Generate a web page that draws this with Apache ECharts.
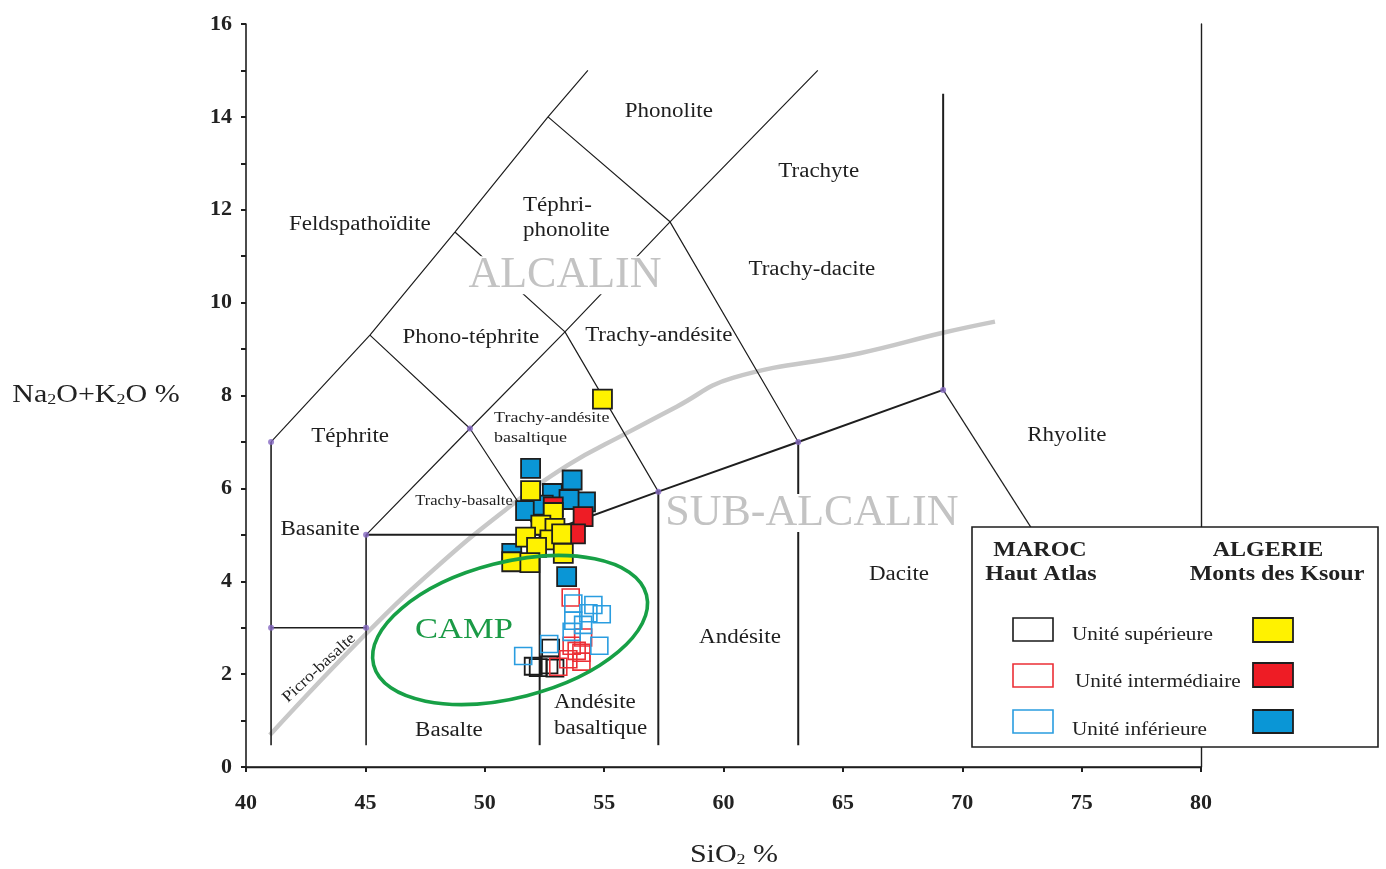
<!DOCTYPE html>
<html>
<head>
<meta charset="utf-8">
<script src="https://cdn.jsdelivr.net/npm/echarts@6/dist/echarts.min.js"></script>
<style>
  html, body { margin: 0; padding: 0; background: #ffffff; }
  #chart { width: 1386px; height: 869px; }
</style>
</head>
<body>
<div id="chart"></div>
<script>
// ---- Axis ticks (SiO2 wt%, Na2O+K2O wt%) ----
const siO2Ticks = [40, 45, 50, 55, 60, 65, 70, 75, 80];
const alkaliTicks = [0, 2, 4, 6, 8, 10, 12, 14, 16];

// ---- Maroc, Haut Atlas (open squares) ----
const marocSuperieure = [[52.76, 2.56], [52.03, 2.17], [52.24, 2.14], [52.69, 2.20], [52.94, 2.13]];
const marocIntermediaire = [[53.60, 3.65], [54.12, 2.79], [53.64, 2.61], [54.05, 2.46], [53.50, 2.32],
                            [54.05, 2.27], [53.08, 2.16], [53.85, 2.50]];
const marocInferieure = [[53.71, 3.52], [54.55, 3.49], [54.90, 3.29], [54.34, 3.31], [53.71, 3.15],
                         [54.12, 3.06], [53.64, 2.91], [54.80, 2.61], [51.61, 2.39], [52.70, 2.65]];

// ---- Algérie, Monts des Ksour (filled squares) ----
const algerieInferieure = [[51.92, 6.43], [53.66, 6.18], [52.83, 5.89], [54.22, 5.71], [53.53, 5.76],
                           [51.71, 5.52], [53.43, 4.10], [51.13, 4.60], [52.45, 5.64]];
const algerieIntermediaire = [[52.87, 5.60], [54.12, 5.39], [53.80, 5.02]];
const algerieSuperieure = [[54.93, 7.92], [51.92, 5.95], [52.87, 5.48], [52.35, 5.21], [52.94, 5.14],
                           [51.71, 4.95], [52.73, 4.89], [53.22, 5.02], [53.29, 4.60], [52.17, 4.73],
                           [51.13, 4.42], [51.89, 4.40]];

// ---- TAS field boundaries ----
const fieldBoundaries = [
  [[41.05, 7.00], [45.19, 9.30], [48.75, 11.52], [52.65, 14.00], [54.32, 15.00]],
  [[45.03, 5.00], [49.38, 7.29], [53.36, 9.37], [57.76, 11.74], [63.95, 15.00]],
  [[45.19, 9.30], [49.38, 7.29], [52.30, 5.00]],
  [[48.75, 11.52], [53.36, 9.37], [57.27, 5.93]],
  [[52.65, 14.00], [57.76, 11.74], [63.13, 7.00]],
  [[69.20, 8.12], [78.70, 0.47]]
];
const mediumBoundaries = [
  [[41.05, 7.00], [41.05, 0.47]],
  [[41.05, 3.00], [45.03, 3.00]],
  [[45.03, 5.00], [45.03, 0.47]]
];
const heavyBoundaries = [
  [[45.03, 5.00], [52.30, 5.00], [57.27, 5.93], [63.13, 7.00], [69.20, 8.12], [69.20, 14.50]],
  [[52.30, 5.00], [52.30, 0.47]],
  [[57.27, 5.93], [57.27, 0.47]],
  [[63.13, 7.00], [63.13, 0.47]]
];
const boundaryNodes = [[41.05, 7.00], [41.05, 3.00], [45.03, 3.00], [45.03, 5.00], [49.38, 7.29],
                       [57.27, 5.93], [63.13, 7.00], [69.20, 8.12]];

// Alkaline / sub-alkaline divide
const alkalineDivide = [[41.00, 0.69], [45.05, 2.88], [47.99, 4.31], [50.85, 5.53], [53.48, 6.50],
                        [55.94, 7.19], [58.04, 7.76], [60.39, 8.38], [65.71, 8.91],
                        [69.19, 9.35], [71.37, 9.59]];

// CAMP field
const campCenter = [51.06, 2.95];
const campSemiAxes = [5.9, 1.46];
const campTiltDeg = 14.4;

// ---- Field names ----
const fieldNames = ['Phonolite', 'Trachyte', 'Téphri-\nphonolite', 'Feldspathoïdite', 'Trachy-dacite',
  'ALCALIN', 'Phono-téphrite', 'Trachy-andésite', 'Téphrite', 'Trachy-andésite\nbasaltique', 'Rhyolite',
  'Trachy-basalte', 'Basanite', 'SUB-ALCALIN', 'Dacite', 'Andésite', 'CAMP', 'Andésite\nbasaltique',
  'Basalte', 'Picro-basalte'];
const fieldNameAnchors = [[57.71, 14.10], [63.99, 12.81], [51.60, 11.82], [44.77, 11.67], [63.70, 10.70],
  [53.36, 10.59], [49.42, 9.24], [57.29, 9.28], [44.36, 7.11], [50.39, 7.30], [74.38, 7.13],
  [49.13, 5.73], [43.10, 5.10], [63.70, 5.47], [67.35, 4.13], [60.69, 2.78], [49.13, 2.95], [52.90, 1.10],
  [48.50, 0.78], [43.06, 2.13]];

// ---- Styling ----
const SERIF = '"Liberation Serif", "Times New Roman", serif';
const fnt = (size, weight) => (weight || 'normal') + ' ' + size + 'px ' + SERIF;
const INK = '#1e1e1e';

const defaultLabel = { size: 20, scaleX: 1.15, fill: '#1e1e1e', align: 'center' };
const labelStyles = {
  'ALCALIN': { size: 44, scaleX: 1.0, fill: '#c3c3c3', bg: '#ffffff', lineHeight: 38 },
  'SUB-ALCALIN': { size: 44, scaleX: 1.0, fill: '#c3c3c3', bg: '#ffffff', lineHeight: 38 },
  'CAMP': { size: 30, scaleX: 1.15, fill: '#1b9a46' },
  'Téphri-\nphonolite': { align: 'left', lineHeight: 25 },
  'Andésite\nbasaltique': { align: 'left', lineHeight: 26 },
  'Trachy-andésite\nbasaltique': { size: 15, scaleX: 1.2, align: 'left', lineHeight: 20 },
  'Trachy-basalte': { size: 14, scaleX: 1.18 },
  'Picro-basalte': { size: 16, scaleX: 1.12, rotate: 43 }
};

const axisFrame = { lineStyle: { color: INK, width: 1.6 } };

function boundarySeries(lines, width, z) {
  return lines.map(pts => ({
    type: 'line', data: pts, symbol: 'none', silent: true, z: z,
    lineStyle: { color: INK, width: width }
  }));
}

function squareSeries(name, data, fill, stroke, size, width, z) {
  return {
    type: 'scatter', name: name, data: data, symbol: 'rect', symbolSize: size, z: z, silent: true,
    itemStyle: { color: fill, borderColor: stroke, borderWidth: width, opacity: 1 }
  };
}

// legend block drawn on top of the plot
const LZ = 100;
function legendText(x, y, text, size, weight, align, scaleX) {
  return { type: 'text', x: x, y: y, scaleX: scaleX, z: LZ + 1,
    style: { text: text, font: fnt(size, weight), fill: '#222', align: align, verticalAlign: 'middle' } };
}
function legendBox(x, y, w, h, fill, stroke, lw) {
  return { type: 'rect', z: LZ + 1, shape: { x: x, y: y, width: w, height: h },
    style: { fill: fill, stroke: stroke, lineWidth: lw } };
}

const chart = echarts.init(document.getElementById('chart'), null, { renderer: 'canvas' });

const option = {
  animation: false,
  backgroundColor: '#ffffff',
  grid: { left: 246, right: 185, top: 24, bottom: 102 },
  xAxis: [{
    type: 'value', min: siO2Ticks[0], max: siO2Ticks[siO2Ticks.length - 1],
    interval: siO2Ticks[1] - siO2Ticks[0],
    axisLine: axisFrame,
    axisTick: { show: true, length: 5, lineStyle: { color: INK, width: 2 } },
    axisLabel: { fontFamily: SERIF, fontWeight: 'bold', fontSize: 22, color: '#222', margin: 25 },
    splitLine: { show: false }
  }, {
    type: 'value', position: 'top', min: siO2Ticks[0], max: siO2Ticks[siO2Ticks.length - 1],
    axisLine: { show: true, lineStyle: { color: INK, width: 1.4 } },
    axisTick: { show: false }, axisLabel: { show: false }, splitLine: { show: false }
  }],
  yAxis: [{
    type: 'value', min: alkaliTicks[0], max: alkaliTicks[alkaliTicks.length - 1],
    interval: alkaliTicks[1] - alkaliTicks[0],
    axisLine: { show: true, lineStyle: { color: INK, width: 1.6 } },
    axisTick: { show: true, length: 5, lineStyle: { color: INK, width: 2 } },
    minorTick: { show: true, splitNumber: 2, length: 5, lineStyle: { color: INK, width: 2 } },
    axisLabel: { fontFamily: SERIF, fontWeight: 'bold', fontSize: 22, color: '#222', margin: 14 },
    splitLine: { show: false }
  }, {
    type: 'value', position: 'right', min: alkaliTicks[0], max: alkaliTicks[alkaliTicks.length - 1],
    axisLine: { show: true, lineStyle: { color: INK, width: 1.4 } },
    axisTick: { show: false }, axisLabel: { show: false }, splitLine: { show: false }
  }],
  series: [
    // alkaline / sub-alkaline divide
    {
      type: 'line', data: alkalineDivide, symbol: 'none', smooth: 0.45, silent: true, z: 1,
      lineStyle: { color: '#c8c8c8', width: 4.5 }
    },
    ...boundarySeries(fieldBoundaries, 1.2, 2),
    ...boundarySeries(mediumBoundaries, 1.6, 2),
    ...boundarySeries(heavyBoundaries, 2.0, 2),
    {
      type: 'scatter', data: boundaryNodes, symbol: 'circle', symbolSize: 6, silent: true, z: 2,
      itemStyle: { color: '#8468c2' }
    },
    // field names
    {
      type: 'custom', data: fieldNameAnchors, silent: true, z: 3, clip: false,
      renderItem: function (params, api) {
        const name = fieldNames[params.dataIndex];
        const st = Object.assign({}, defaultLabel, labelStyles[name] || {});
        const p = api.coord([api.value(0), api.value(1)]);
        const style = {
          text: name, font: fnt(st.size), fill: st.fill,
          align: st.align, verticalAlign: 'middle'
        };
        if (st.lineHeight) style.lineHeight = st.lineHeight;
        if (st.bg) { style.backgroundColor = st.bg; style.padding = [0, 2]; }
        return {
          type: 'text', x: p[0], y: p[1], scaleX: st.scaleX, scaleY: 1,
          rotation: (st.rotate || 0) * Math.PI / 180, style: style
        };
      }
    },
    // samples
    squareSeries('Maroc - Unité supérieure', marocSuperieure, 'rgba(255,255,255,0)', '#1a1a1a', 17, 1.8, 5),
    squareSeries('Maroc - Unité intermédiaire', marocIntermediaire, 'rgba(255,255,255,0)', '#ec2f36', 17, 1.6, 5),
    squareSeries('Maroc - Unité inférieure', marocInferieure, 'rgba(255,255,255,0)', '#2a9de0', 17, 1.6, 5),
    squareSeries('Algérie - Unité inférieure', algerieInferieure, '#0a96d6', INK, 19, 1.8, 6),
    squareSeries('Algérie - Unité intermédiaire', algerieIntermediaire, '#ee1c25', INK, 19, 1.8, 6),
    squareSeries('Algérie - Unité supérieure', algerieSuperieure, '#fff200', INK, 19, 1.8, 6),
    // CAMP outline
    {
      type: 'custom', data: [campCenter], silent: true, z: 7, clip: false,
      renderItem: function (params, api) {
        const c = api.coord([api.value(0), api.value(1)]);
        const rx = api.size([campSemiAxes[0], 0])[0];
        const ry = api.size([0, campSemiAxes[1]])[1];
        return {
          type: 'ellipse', x: c[0], y: c[1], rotation: campTiltDeg * Math.PI / 180,
          shape: { cx: 0, cy: 0, rx: rx, ry: ry },
          style: { fill: 'rgba(0,0,0,0)', stroke: '#17a046', lineWidth: 3.6 }
        };
      }
    }
  ],
  graphic: [
    // axis titles
    {
      type: 'text', x: 96, y: 395, scaleX: 1.2, z: 50,
      style: {
        text: 'Na{s|2}O+K{s|2}O %', font: fnt(25), fill: '#222', align: 'center', verticalAlign: 'middle',
        rich: { s: { font: fnt(15), fill: '#222', verticalAlign: 'bottom', lineHeight: 22 } }
      }
    },
    {
      type: 'text', x: 734, y: 855, scaleX: 1.2, z: 50,
      style: {
        text: 'SiO{s|2} %', font: fnt(25), fill: '#222', align: 'center', verticalAlign: 'middle',
        rich: { s: { font: fnt(15), fill: '#222', verticalAlign: 'bottom', lineHeight: 22 } }
      }
    },
    // legend
    {
      type: 'group', z: LZ, children: [
        legendBox(972, 527, 406, 220, '#ffffff', INK, 1.6),
        legendText(1040, 551, 'MAROC', 20, 'bold', 'center', 1.2),
        legendText(1041, 575, 'Haut Atlas', 20, 'bold', 'center', 1.2),
        legendText(1268, 551, 'ALGERIE', 20, 'bold', 'center', 1.2),
        legendText(1277, 575, 'Monts des Ksour', 20, 'bold', 'center', 1.2),

        legendBox(1013, 618, 40, 23, '#ffffff', '#1a1a1a', 1.6),
        legendText(1072, 635, 'Unité supérieure', 18, 'normal', 'left', 1.18),
        legendBox(1253, 618, 40, 24, '#fff200', INK, 1.8),

        legendBox(1013, 664, 40, 23, '#ffffff', '#ec2f36', 1.6),
        legendText(1075, 682, 'Unité intermédiaire', 18, 'normal', 'left', 1.18),
        legendBox(1253, 663, 40, 24, '#ee1c25', INK, 1.8),

        legendBox(1013, 710, 40, 23, '#ffffff', '#2a9de0', 1.6),
        legendText(1072, 730, 'Unité inférieure', 18, 'normal', 'left', 1.18),
        legendBox(1253, 710, 40, 23, '#0a96d6', INK, 1.8)
      ]
    }
  ]
};

chart.setOption(option);
</script>
</body>
</html>
